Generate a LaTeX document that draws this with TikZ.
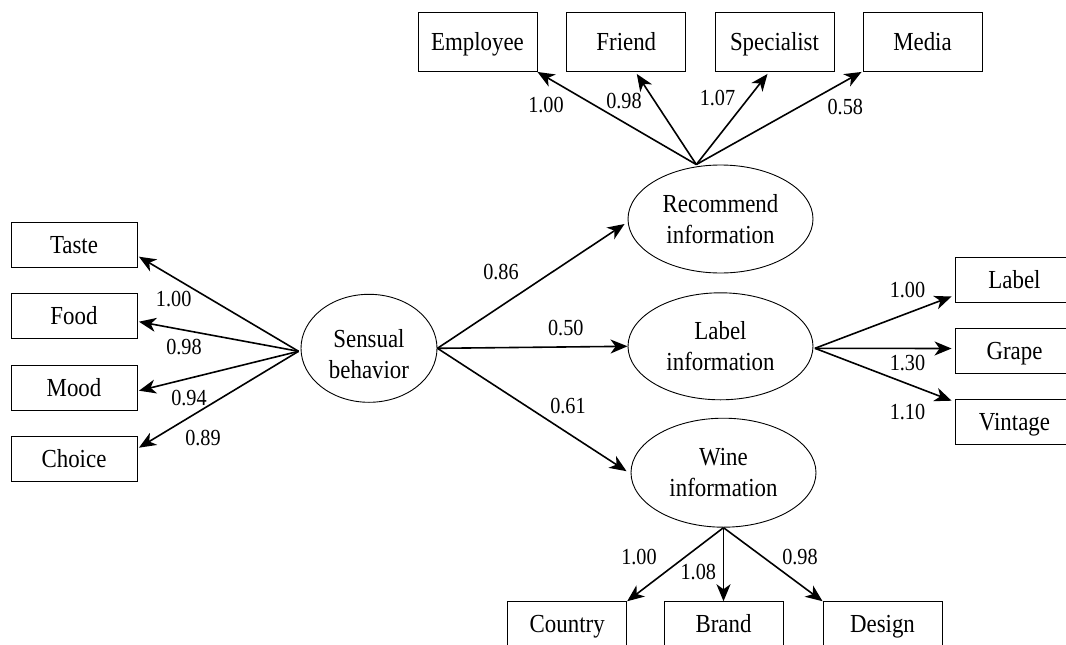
\documentclass[tikz,border=0pt]{standalone}
\usepackage{fontspec}
\setmainfont[FakeStretch=0.88]{Liberation Serif}
\usetikzlibrary{arrows.meta,shapes.geometric,calc}
\begin{document}
\begin{tikzpicture}[x=1pt,y=-1pt,
  obs/.style={draw,line width=0.9pt,rectangle,inner sep=0pt,
    font=\fontsize{26}{30}\selectfont,text height=17pt,text depth=0pt},
  topbox/.style={obs,minimum width=119pt,minimum height=59pt},
  sidebox/.style={obs,minimum width=126pt,minimum height=45pt},
  rbox/.style={obs,minimum width=119pt,minimum height=45pt},
  lat/.style={draw,line width=0.9pt,ellipse,inner sep=0pt,align=center,
    font=\fontsize{26}{31}\selectfont},
  coef/.style={inner sep=0pt,font=\fontsize{23}{26}\selectfont},
  path/.style={line width=1.6pt,-{Stealth[length=17pt,width=14pt,inset=5pt]}}]
\useasboundingbox (0,0) rectangle (1066,645);
\clip (0,0) rectangle (1066,645);

% top indicators
\node[topbox] (emp) at (477.5,42) {Employee};
\node[topbox] (fri) at (626.3,42) {Friend};
\node[topbox] (spe) at (774.5,42) {Specialist};
\node[topbox] (med) at (922.5,42) {Media};

% left indicators
\node[sidebox] (tas) at (74,245) {Taste};
\node[sidebox] (foo) at (74,316.2) {Food};
\node[sidebox] (moo) at (74,387.5) {Mood};
\node[sidebox] (cho) at (74,458.5) {Choice};

% right indicators
\node[rbox] (lbl) at (1014.5,279.5) {Label};
\node[rbox] (gra) at (1014.5,350.5) {Grape};
\node[rbox] (vin) at (1014.5,421.7) {Vintage};

% bottom indicators
\node[rbox] (cou) at (567.2,624.2) {Country};
\node[rbox] (bra) at (723.5,624.2) {Brand};
\node[rbox] (des) at (882.5,624.2) {Design};

% latent variables
\node[lat,minimum width=136pt,minimum height=108pt] (sen) at (369,348.3) {};
\node[font=\fontsize{26}{31}\selectfont,align=center,inner sep=0pt] (sentext) at ($(sen.center)+(0,6)$) {Sensual\\behavior};
\node[lat,minimum width=185pt,minimum height=108pt] (rec) at (720.5,219) {Recommend\\information};
\node[lat,minimum width=185pt,minimum height=107pt] (lab) at (720.5,346.3) {Label\\information};
\node[lat,minimum width=185pt,minimum height=109pt] (wine) at (723.5,472.7) {Wine\\information};

% recommend paths
\coordinate (recs) at ($(rec.north)+(-24.2,0)$);
\draw[path] (recs) -- (emp.south east);
\draw[path] (recs) -- ($(fri.south)+(10.5,2)$);
\draw[path] (recs) -- ($(spe.south)+(-7,2)$);
\draw[path] (recs) -- ($(med.south west)+(-1,0)$);

% sensual paths to left
\coordinate (sens) at ($(sen.west)+(-2,3)$);
\draw[path] (sens) -- ($(tas.east)+(1.5,11.7)$);
\draw[path] (sens) -- ($(foo.east)+(1.5,5.5)$);
\draw[path] (sens) -- ($(moo.east)+(1.5,3.2)$);
\draw[path] (sens) -- ($(cho.east)+(1.5,-10.8)$);

% structural paths
\draw[path] (sen.east) -- ($(rec.west)+(-3,5)$);
\draw[path] (sen.east) -- (lab.west);
\draw[path] (sen.east) -- ($(wine.west)+(-4,-1.5)$);

% label paths
\coordinate (labs) at ($(lab.east)+(1.5,2)$);
\draw[path] (labs) -- ($(lbl.west)+(-3,17)$);
\draw[path] (labs) -- ($(gra.west)+(-3,-2)$);
\draw[path] (labs) -- ($(vin.west)+(-3,-21)$);

% wine paths
\draw[path] (wine.south) -- (cou.north east);
\draw[path] (wine.south) -- (bra.north);
\draw[path] (wine.south) -- (des.north west);

% coefficients
\node[coef] (c1) at (546,105) {1.00};
\node[coef] (c2) at (624,101) {0.98};
\node[coef] (c3) at (717.5,98.3) {1.07};
\node[coef] (c4) at (845.3,107.5) {0.58};

\node[coef] (c5) at (173.7,299) {1.00};
\node[coef] (c6) at (184,347.5) {0.98};
\node[coef] (c7) at (189,398) {0.94};
\node[coef] (c8) at (203,438.5) {0.89};

\node[coef] (c9) at (501,272.5) {0.86};
\node[coef] (c10) at (565.8,328.3) {0.50};
\node[coef] (c11) at (568,405.7) {0.61};

\node[coef] (c12) at (907.5,290) {1.00};
\node[coef] (c13) at (907.5,363.3) {1.30};
\node[coef] (c14) at (907.5,411.7) {1.10};

\node[coef] (c15) at (639,557.5) {1.00};
\node[coef] (c16) at (698.3,572.5) {1.08};
\node[coef] (c17) at (800,557.5) {0.98};
\end{tikzpicture}
\end{document}
